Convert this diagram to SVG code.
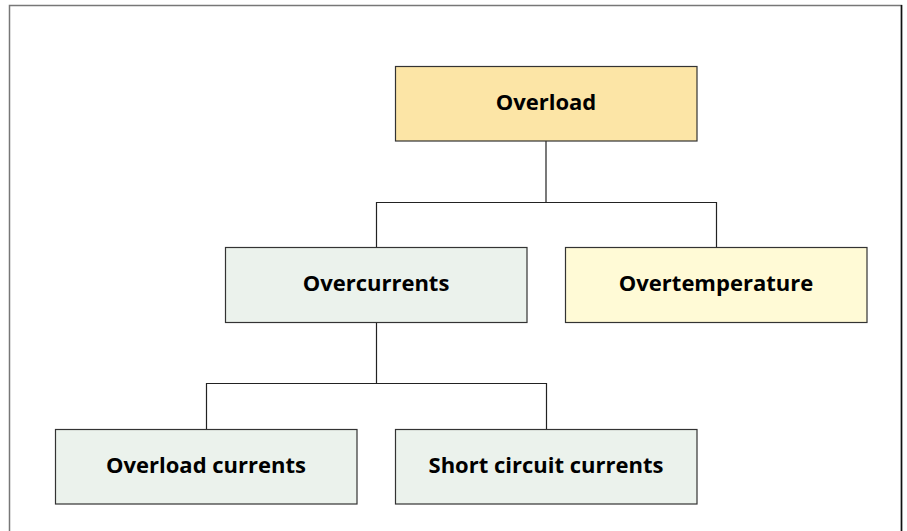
<svg xmlns="http://www.w3.org/2000/svg" width="907" height="531" viewBox="0 0 907 531">
<style>
.box{stroke:#333;stroke-width:1.2}
.lbl{font-family:"Open Sans","DejaVu Sans",sans-serif;font-weight:bold;font-size:22px;fill:#000;text-anchor:middle}
.con{fill:none;stroke:#222;stroke-width:1.2}
</style>
<rect width="907" height="531" fill="#fff"/>
<path d="M9.5,531 V5.5 H901.5 V531" fill="none" stroke="#777" stroke-width="1.5"/>
<line x1="901.5" y1="5" x2="901.5" y2="531" stroke="#111" stroke-width="1.5"/>
<g id="connectors">
<path class="con" d="M546,141 V202.5 M376.5,248 V202.5 H716.5 V248"/>
<path class="con" d="M376.5,322 V383.5 M206.5,429 V383.5 H546.5 V429"/>
</g>
<g id="overload">
<rect class="box" x="395.5" y="66.5" width="301.5" height="74.5" fill="#FCE5A6"/>
<text class="lbl" x="546" y="110">Overload</text>
</g>
<g id="overcurrents">
<rect class="box" x="225.5" y="247.5" width="301.5" height="75" fill="#EBF2EC"/>
<text class="lbl" x="376" y="291">Overcurrents</text>
</g>
<g id="overtemperature">
<rect class="box" x="565.5" y="247.5" width="301.5" height="75" fill="#FFFAD6"/>
<text class="lbl" x="716" y="291">Overtemperature</text>
</g>
<g id="overload-currents">
<rect class="box" x="55.5" y="429.5" width="301.5" height="74.5" fill="#EBF2EC"/>
<text class="lbl" x="206" y="473">Overload currents</text>
</g>
<g id="short-circuit-currents">
<rect class="box" x="395.5" y="429.5" width="301.5" height="74.5" fill="#EBF2EC"/>
<text class="lbl" x="546" y="473">Short circuit currents</text>
</g>
</svg>
